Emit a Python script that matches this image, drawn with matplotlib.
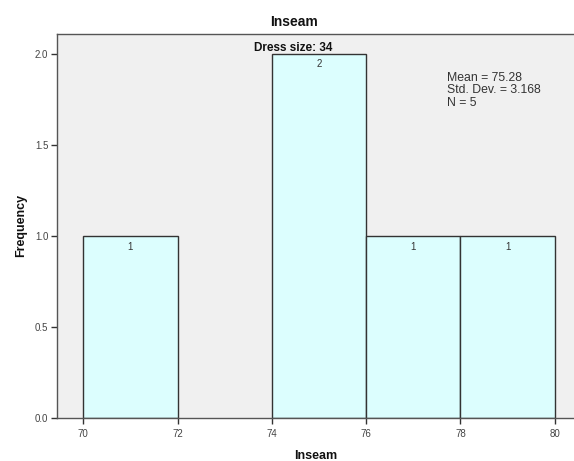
import matplotlib
matplotlib.use("Agg")
import matplotlib.pyplot as plt
from matplotlib.ticker import FormatStrFormatter

bin_edges = [70, 72, 74, 76, 78, 80]
counts = [1, 0, 2, 1, 1]
x_ticks = [70, 72, 74, 76, 78, 80]
y_ticks = [0.0, 0.5, 1.0, 1.5, 2.0]
title = "Inseam"
panel_label = "Dress size: 34"
stats_lines = ["Mean = 75.28", "Std. Dev. = 3.168", "N = 5"]

plt.rcParams['font.family'] = ['Liberation Sans', 'DejaVu Sans']

fig = plt.figure(figsize=(5.74, 4.61), dpi=100)
fig.patch.set_facecolor('white')
ax = fig.add_axes([0.0988, 0.0933, 0.9012, 0.8336])
ax.set_facecolor('#f0f0f0')

lefts = bin_edges[:-1]
widths = [b - a for a, b in zip(bin_edges[:-1], bin_edges[1:])]
for l, w, c in zip(lefts, widths, counts):
    if c > 0:
        ax.bar(l, c, width=w, align='edge', color='#dcfefe', edgecolor='#333333',
               linewidth=1.0, zorder=2)
        ax.annotate(str(c), xy=(l + w / 2, c), xytext=(0, -4), textcoords='offset points',
                    ha='center', va='top', fontsize=7, color='#333333', zorder=3)

ax.set_xlim(69.435, 80.41)
ax.set_ylim(0, 2.111)
ax.set_xticks(x_ticks)
ax.set_yticks(y_ticks)
ax.yaxis.set_major_formatter(FormatStrFormatter('%.1f'))
ax.tick_params(axis='both', direction='out', length=4, width=1, color='#333333',
               labelsize=7, labelcolor='#444444')
ax.tick_params(axis='x', pad=4)
ax.tick_params(axis='y', pad=2)

for s in ['left', 'bottom', 'top']:
    ax.spines[s].set_color('#555555')
    ax.spines[s].set_linewidth(1.0)
ax.spines['right'].set_visible(False)

fig.text(294.5 / 574, 1 - 22 / 461, title, ha='center', va='center',
         fontsize=10, fontweight='bold', color='#111111')
ax.text((293.5 - 56.7) / 517.3, 1 - (48 - 33.7) / 384.3, panel_label,
        transform=ax.transAxes, ha='center', va='center', fontsize=8.5,
        fontweight='bold', color='#111111')
ax.text((446.7 - 56.7) / 517.3, 1 - (72 - 33.7) / 384.3, "\n".join(stats_lines),
        transform=ax.transAxes, ha='left', va='top', fontsize=8.8,
        color='#333333', linespacing=1.05)

ax.set_xlabel("Inseam", fontsize=9, fontweight='bold', color='#111111', labelpad=8)
ax.set_ylabel("Frequency", fontsize=9, fontweight='bold', color='#111111', labelpad=6)

fig.savefig("out.png", dpi=100)
